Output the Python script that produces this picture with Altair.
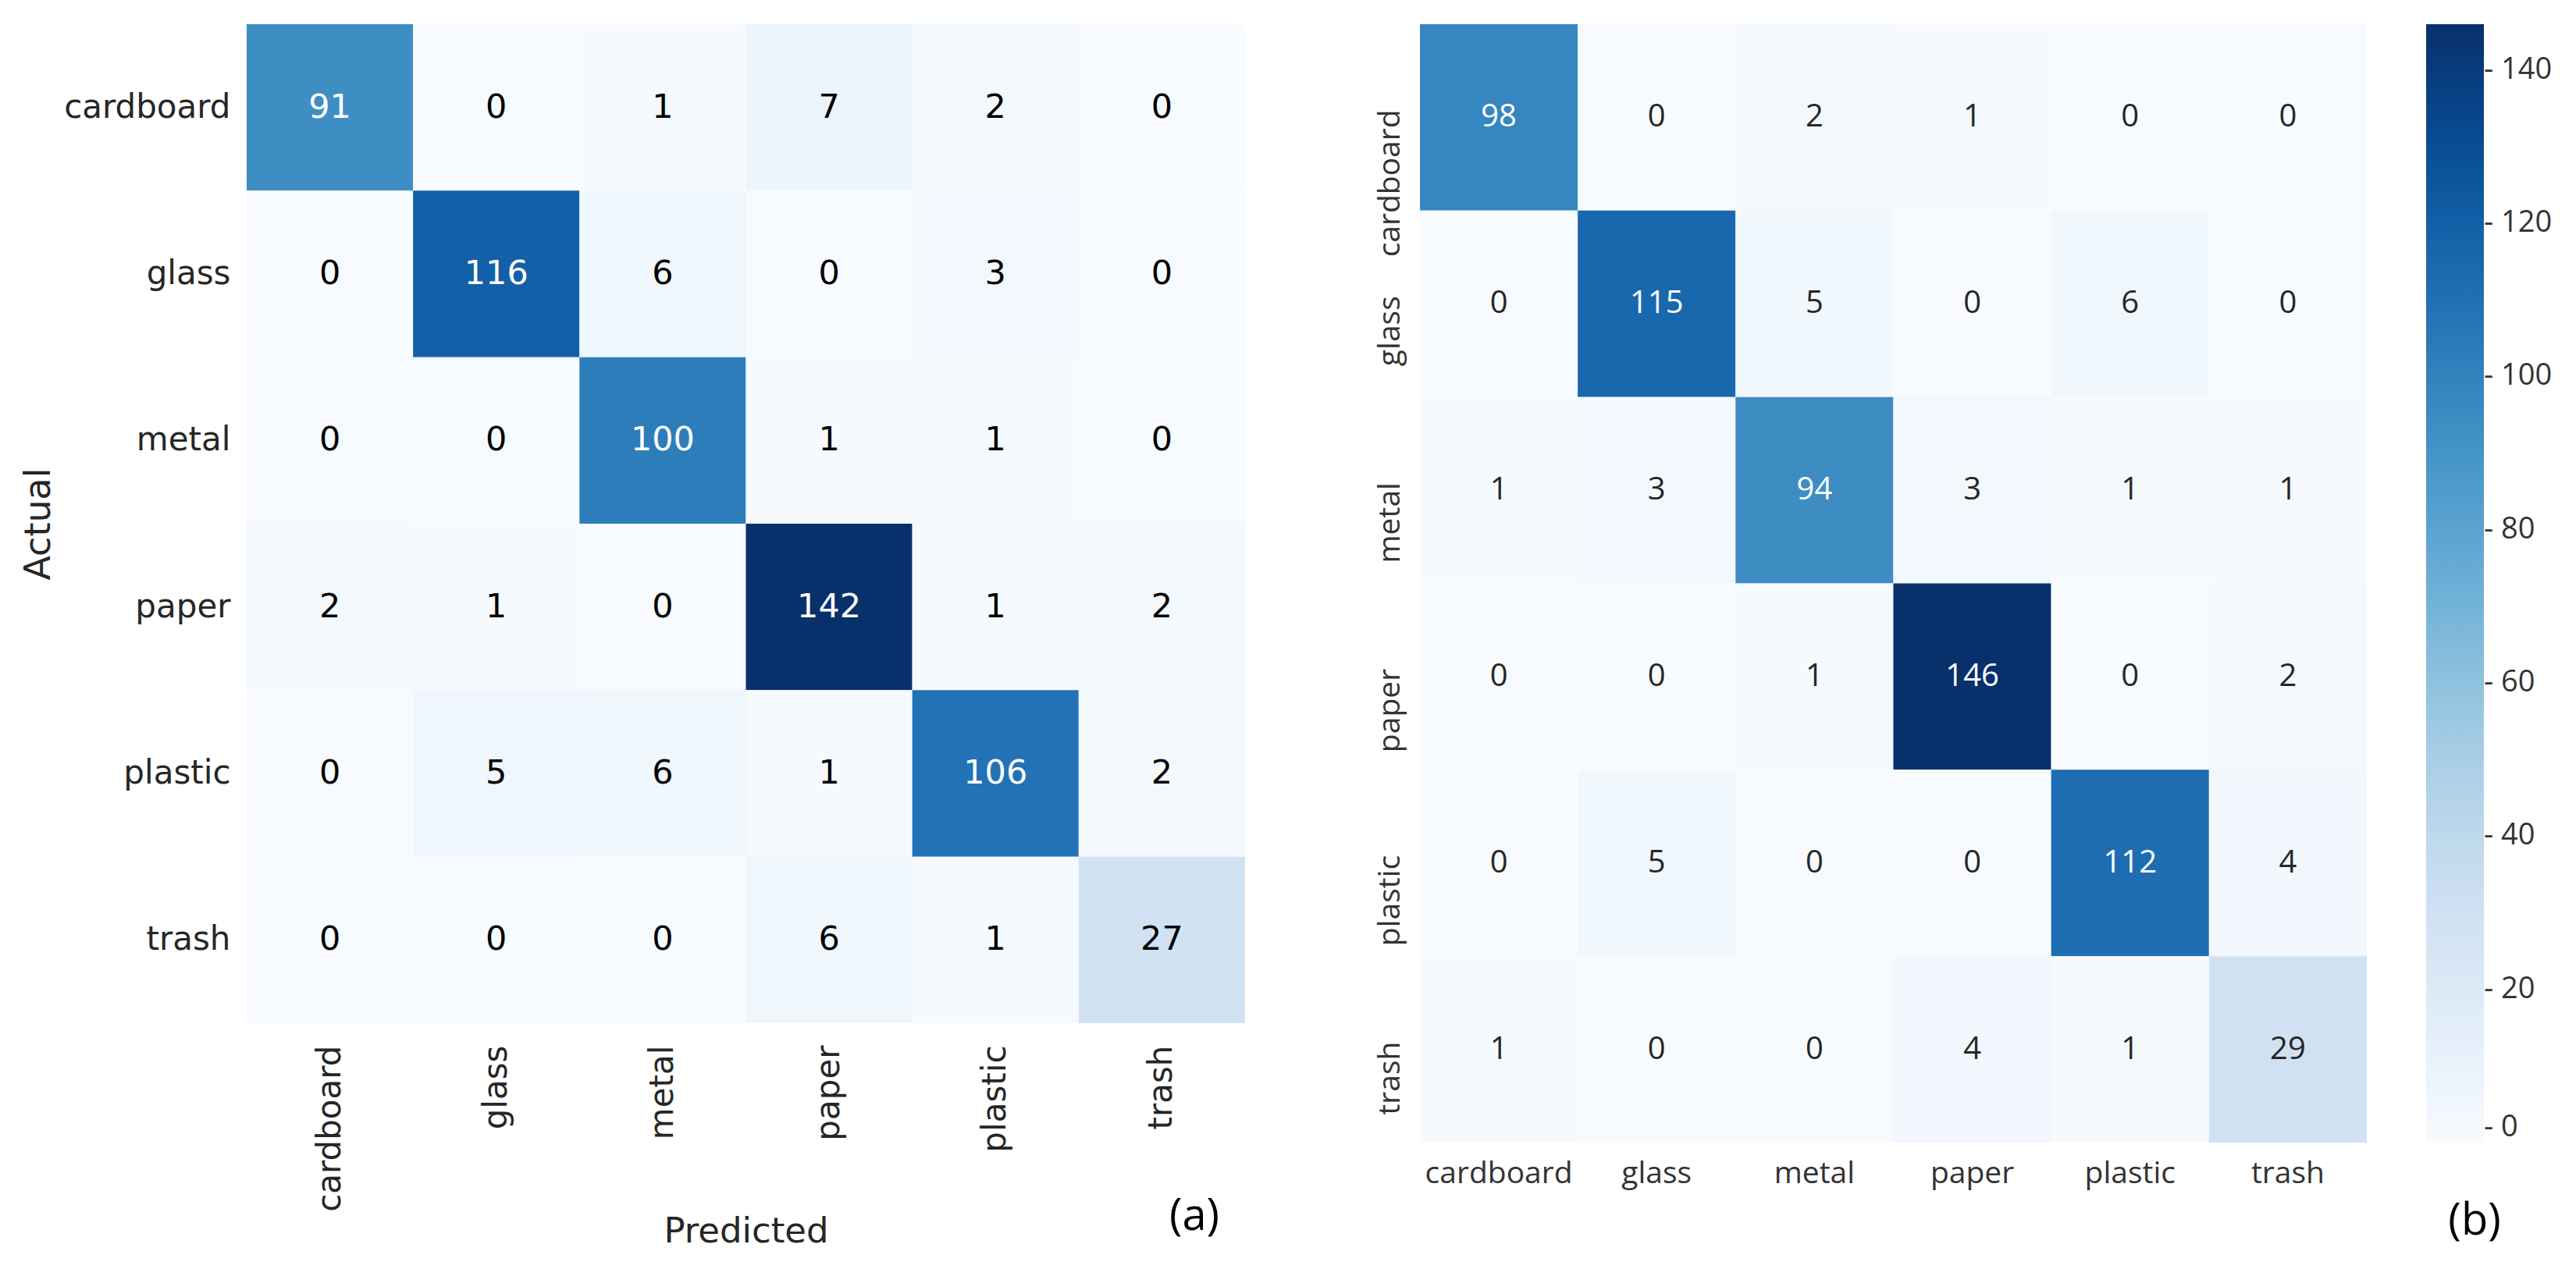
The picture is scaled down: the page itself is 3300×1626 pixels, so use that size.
import altair as alt
import pandas as pd

classes = ["cardboard", "glass", "metal", "paper", "plastic", "trash"]

# (a) rows = actual, columns = predicted
cm_a_cardboard = [91, 0, 1, 7, 2, 0]
cm_a_glass = [0, 116, 6, 0, 3, 0]
cm_a_metal = [0, 0, 100, 1, 1, 0]
cm_a_paper = [2, 1, 0, 142, 1, 2]
cm_a_plastic = [0, 5, 6, 1, 106, 2]
cm_a_trash = [0, 0, 0, 6, 1, 27]

# (b)
cm_b_cardboard = [98, 0, 2, 1, 0, 0]
cm_b_glass = [0, 115, 5, 0, 6, 0]
cm_b_metal = [1, 3, 94, 3, 1, 1]
cm_b_paper = [0, 0, 1, 146, 0, 2]
cm_b_plastic = [0, 5, 0, 0, 112, 4]
cm_b_trash = [1, 0, 0, 4, 1, 29]

colorbar_ticks = [0, 20, 40, 60, 80, 100, 120, 140]

BLUES = ["#f7fbff", "#deebf7", "#c6dbef", "#9ecae1", "#6baed6",
         "#4292c6", "#2171b5", "#08519c", "#08306b"]


def to_df(rows):
    recs = []
    for actual, row in zip(classes, rows):
        for pred, v in zip(classes, row):
            recs.append({"actual": actual, "pred": pred, "value": v})
    return pd.DataFrame(recs)


df_a = to_df([cm_a_cardboard, cm_a_glass, cm_a_metal, cm_a_paper, cm_a_plastic, cm_a_trash])
df_b = to_df([cm_b_cardboard, cm_b_glass, cm_b_metal, cm_b_paper, cm_b_plastic, cm_b_trash])


def blues_scale(vmax):
    n = len(BLUES) - 1
    return alt.Scale(domain=[vmax * i / n for i in range(n + 1)], range=BLUES,
                     interpolate="rgb", clamp=True)


# ---------------- panel (a) ----------------
FA = "DejaVu Sans"
vmax_a = int(df_a["value"].max())
base_a = alt.Chart(df_a).encode(
    x=alt.X("pred:N", sort=classes,
            scale=alt.Scale(paddingInner=0, paddingOuter=0),
            axis=alt.Axis(title="Predicted", labelAngle=270, labelAlign="right",
                          labelBaseline="middle", labelPadding=28, labelFont=FA,
                          labelFontSize=42, labelColor="#262626", labelLimit=0,
                          titleFont=FA, titleFontSize=45, titleFontWeight="normal",
                          titleColor="#262626", titleY=280, titleBaseline="alphabetic",
                          ticks=False, domain=False)),
    y=alt.Y("actual:N", sort=classes,
            scale=alt.Scale(paddingInner=0, paddingOuter=0),
            axis=alt.Axis(title="Actual", labelAngle=0, labelAlign="right",
                          labelBaseline="middle", labelPadding=21, labelFont=FA,
                          labelFontSize=42, labelColor="#262626", labelLimit=0,
                          titleFont=FA, titleFontSize=46, titleFontWeight="normal",
                          titleColor="#262626", titleX=-253, titleBaseline="alphabetic",
                          ticks=False, domain=False)),
)
rect_a = base_a.mark_rect(strokeWidth=0).encode(
    color=alt.Color("value:Q", scale=blues_scale(vmax_a), legend=None)
)
text_a = base_a.mark_text(font=FA, fontSize=43, baseline="middle").encode(
    text="value:Q",
    color=alt.condition(alt.datum.value > 60, alt.value("white"), alt.value("black")),
)
lab_a = alt.Chart(pd.DataFrame({"t": ["(a)"]})).mark_text(
    font="Open Sans", fontSize=56, baseline="alphabetic", align="center", color="black"
).encode(text="t:N", x=alt.value(1214), y=alt.value(1545))

panel_a = alt.layer(rect_a, text_a, lab_a).properties(width=1279, height=1280)

# ---------------- panel (b) ----------------
FB = "Open Sans"
vmax_b = int(df_b["value"].max())
base_b = alt.Chart(df_b).encode(
    x=alt.X("pred:N", sort=classes,
            scale=alt.Scale(paddingInner=0, paddingOuter=0),
            axis=alt.Axis(title=None, labelAngle=0, labelAlign="center",
                          labelBaseline="top", labelPadding=20, labelFont=FB,
                          labelFontSize=39, labelColor="#333333", labelLimit=0,
                          ticks=False, domain=False)),
    y=alt.Y("actual:N", sort=classes,
            scale=alt.Scale(paddingInner=0, paddingOuter=0),
            axis=alt.Axis(title=None, labelAngle=270, labelAlign="right",
                          labelBaseline="alphabetic", labelPadding=27, labelOffset=-10,
                          labelFont=FB, labelFontSize=39, labelColor="#333333",
                          labelLimit=0, ticks=False, domain=False)),
)
rect_b = base_b.mark_rect(strokeWidth=0).encode(
    color=alt.Color("value:Q", scale=blues_scale(vmax_b),
                    legend=alt.Legend(title=None, orient="none", legendX=1289, legendY=0,
                                      direction="vertical", gradientLength=1433,
                                      gradientThickness=74, gradientStrokeWidth=0,
                                      values=colorbar_ticks, labelFont=FB,
                                      labelFontSize=38, labelColor="#333333",
                                      labelOffset=0, labelExpr="'- ' + datum.label",
                                      labelOverlap=False))
)
text_b = base_b.mark_text(font=FB, fontSize=40, baseline="middle").encode(
    text="value:Q",
    color=alt.condition(alt.datum.value > 60, alt.value("white"), alt.value("#262626")),
)
lab_b = alt.Chart(pd.DataFrame({"t": ["(b)"]})).mark_text(
    font="Open Sans", fontSize=56, baseline="alphabetic", align="center", color="black"
).encode(text="t:N", x=alt.value(1351), y=alt.value(1551))

panel_b = alt.layer(rect_b, text_b, lab_b).properties(width=1213, height=1433)

chart = alt.hconcat(panel_a, panel_b, spacing=165).resolve_scale(
    color="independent"
).configure_view(stroke=None).properties(
    padding={"left": 18, "top": 23, "right": 5, "bottom": 5}
)

chart.save("out.html", embed_options={"renderer": "svg", "actions": False})
